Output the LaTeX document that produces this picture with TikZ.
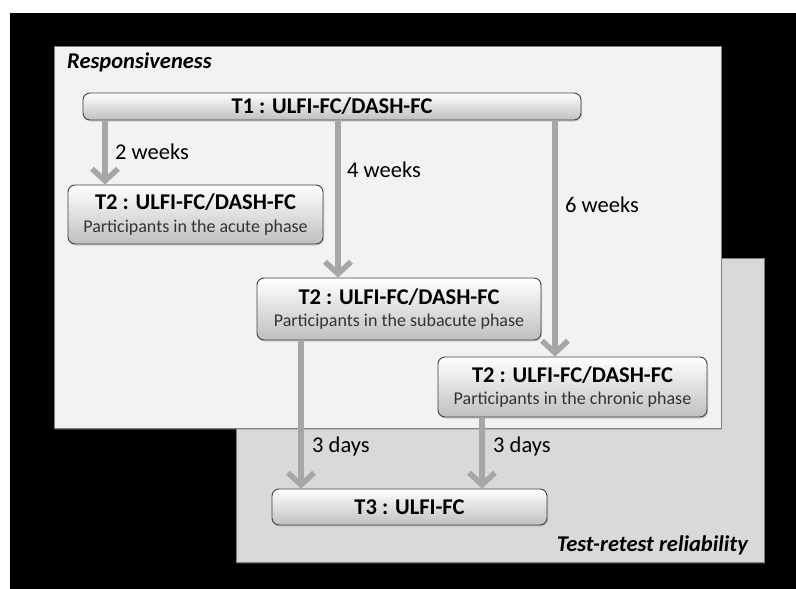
\documentclass[tikz,border=0pt]{standalone}
\usepackage{fontspec}
\setmainfont{Carlito}
\usetikzlibrary{arrows.meta,shadows}

\definecolor{panelA}{HTML}{F2F2F2}
\definecolor{panelB}{HTML}{D9D9D9}
\definecolor{panelEdge}{HTML}{7F7F7F}
\definecolor{boxEdge}{HTML}{404040}
\definecolor{arrowGray}{HTML}{A6A6A6}

\newcommand{\stagetitle}[1]{{\fontsize{22.5}{24}\selectfont\bfseries #1}}
\newcommand{\stagesub}[1]{{\fontsize{18}{20}\selectfont\color{black!80}#1}}

\tikzset{
  panel/.style={draw=panelEdge, line width=1pt,
    drop shadow={opacity=0.35, shadow xshift=1pt, shadow yshift=-1.5pt}},
  stagebox/.style={draw=boxEdge, line width=0.9pt, rounded corners=7pt,
    top color=white, bottom color=black!25, inner sep=0pt, align=center,
    drop shadow={opacity=0.3, shadow xshift=1pt, shadow yshift=-1.5pt}},
  gap/.style={font=\fontsize{22.5}{24}\selectfont, anchor=west, inner sep=0pt},
  flow/.style={draw=arrowGray, line width=6pt,
    -{Straight Barb[length=12pt, width=26pt, line width=5.5pt]}},
  tag/.style={font=\fontsize{22.5}{24}\selectfont\bfseries\itshape, inner sep=0pt}
}

\begin{document}
\begin{tikzpicture}[x=1pt, y=-1pt]
  % page and dark backdrop
  \fill[white] (0,0) rectangle (796,589);
  \fill[black] (10,13) rectangle (796,589);
  \useasboundingbox (0,0) rectangle (796,589);

  % the two study panels
  \node[panel, fill=panelB, minimum width=528pt, minimum height=304pt, inner sep=0pt]
    (retest) at (500,410) {};
  \node[panel, fill=panelA, minimum width=667pt, minimum height=382pt, inner sep=0pt]
    (resp) at (387.5,237.5) {};

  \node[tag, anchor=west] (respLabel) at (67,62) {Responsiveness};
  \node[tag, anchor=east] (retestLabel) at (748,545) {Test-retest reliability};

  % measurement stages
  \node[stagebox, minimum width=498pt, minimum height=27pt] (T1) at (332,106.5)
    {\stagetitle{T1 : ULFI-FC/DASH-FC}};
  \node[stagebox, minimum width=255pt, minimum height=59pt] (T2a) at (195.5,214.5)
    {\stagetitle{T2 : ULFI-FC/DASH-FC}\\[8pt]
     \stagesub{Participants in the acute phase}};
  \node[stagebox, minimum width=284pt, minimum height=62pt] (T2s) at (399,309)
    {\stagetitle{T2 : ULFI-FC/DASH-FC}\\[8pt]
     \stagesub{Participants in the subacute phase}};
  \node[stagebox, minimum width=269pt, minimum height=60pt] (T2c) at (572.5,387)
    {\stagetitle{T2 : ULFI-FC/DASH-FC}\\[8pt]
     \stagesub{Participants in the chronic phase}};
  \node[stagebox, minimum width=275pt, minimum height=36pt] (T3) at (409.5,507)
    {\stagetitle{T3 : ULFI-FC}};

  % arrow columns
  \coordinate (c1) at (105,0);
  \coordinate (c2) at (338,0);
  \coordinate (c3) at (555,0);
  \coordinate (c4) at (301,0);
  \coordinate (c5) at (482,0);

  \draw[flow] (T1.south -| c1) -- (T2a.north -| c1);
  \draw[flow] (T1.south -| c2) -- (T2s.north -| c2);
  \draw[flow] (T1.south -| c3) -- (T2c.north -| c3);
  \draw[flow] (T2s.south -| c4) -- (T3.north -| c4);
  \draw[flow] (T2c.south -| c5) -- (T3.north -| c5);

  % intervals
  \node[gap] (g1) at (115,152) {2 weeks};
  \node[gap] (g2) at (347,170) {4 weeks};
  \node[gap] (g3) at (565,205) {6 weeks};
  \node[gap] (g4) at (312,446) {3 days};
  \node[gap] (g5) at (493,446) {3 days};
\end{tikzpicture}
\end{document}
